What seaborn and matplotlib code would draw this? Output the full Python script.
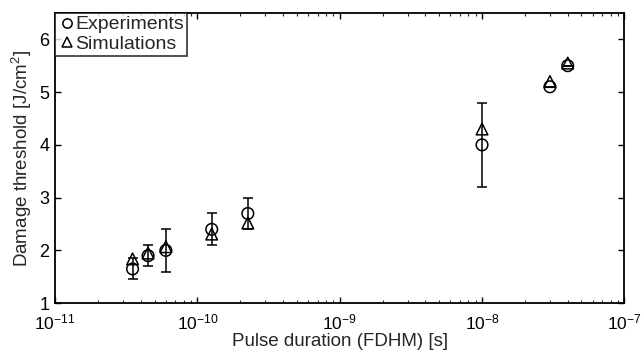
import matplotlib
matplotlib.use("Agg")
import matplotlib.pyplot as plt
import pandas as pd
import seaborn as sns
import numpy as np

# pulse durations (FDHM) in seconds
duration = [3.5e-11, 4.5e-11, 6.0e-11, 1.26e-10, 2.26e-10, 1.0e-8, 3.0e-8, 4.0e-8]
experiments = [1.65, 1.90, 2.00, 2.40, 2.70, 4.00, 5.10, 5.50]
exp_err = [0.20, 0.20, 0.40, 0.30, 0.30, 0.80, 0.0, 0.0]
simulations = [1.84, 1.95, 2.07, 2.31, 2.52, 4.30, 5.20, 5.55]

sns.set_theme(style="ticks")
plt.rcParams['font.family'] = ['Liberation Sans', 'DejaVu Sans']
plt.rcParams['mathtext.fontset'] = 'custom'
plt.rcParams['mathtext.rm'] = 'Liberation Sans'
plt.rcParams['xtick.direction'] = 'in'
plt.rcParams['ytick.direction'] = 'in'
plt.rcParams['xtick.top'] = True
plt.rcParams['ytick.right'] = True

data = pd.DataFrame({"Duration": duration * 2,
                     "Threshold": experiments + simulations,
                     "Kind": ["Experiments"] * len(duration) + ["Simulations"] * len(duration)})

fig, ax = plt.subplots(figsize=(6.41, 3.58), dpi=100)

ax.errorbar(duration, experiments, yerr=exp_err, fmt='none', ecolor='black',
            elinewidth=1.1, capsize=3.3, capthick=1.1, zorder=1)

sns.scatterplot(data=data, x="Duration", y="Threshold", style="Kind",
                markers={"Experiments": "o", "Simulations": "^"},
                facecolor="none", edgecolor="black", linewidth=1.1, s=70,
                color="black", ax=ax, zorder=3)

ax.set_xscale("log")
ax.set_xlim(1e-11, 1e-7)
ax.set_ylim(1, 6.5)
ax.set_yticks([1, 2, 3, 4, 5, 6])
ax.set_xticks([1e-11, 1e-10, 1e-9, 1e-8, 1e-7])
ax.tick_params(axis='both', which='major', labelsize=13, length=4, width=1, colors='black')
ax.tick_params(axis='x', which='major', pad=7, labelsize=12.5)
ax.tick_params(axis='y', which='major', pad=4)
ax.tick_params(axis='x', which='minor', length=2.5, width=0.8, top=True, direction='in')
for s in ax.spines.values():
    s.set_linewidth(1.3)
    s.set_color('black')

ax.set_xlabel("Pulse duration (FDHM) [s]", fontsize=13.5, labelpad=0)
ax.set_ylabel("Damage threshold [J/cm$^2$]", fontsize=13.5, labelpad=4)

leg = ax.legend(loc="upper left", fontsize=14, frameon=True, fancybox=False,
                borderaxespad=0, handletextpad=0.0, handlelength=0.9,
                borderpad=0.15, labelspacing=0.1, markerscale=0.8)
leg.get_frame().set_edgecolor('black')
leg.get_frame().set_linewidth(1.2)
for h in leg.legend_handles:
    h.set_markerfacecolor('none')
    h.set_markeredgecolor('black')
    h.set_markeredgewidth(1.1)

fig.subplots_adjust(left=0.086, right=0.974, top=0.964, bottom=0.153)
fig.savefig("out.png", dpi=100)
